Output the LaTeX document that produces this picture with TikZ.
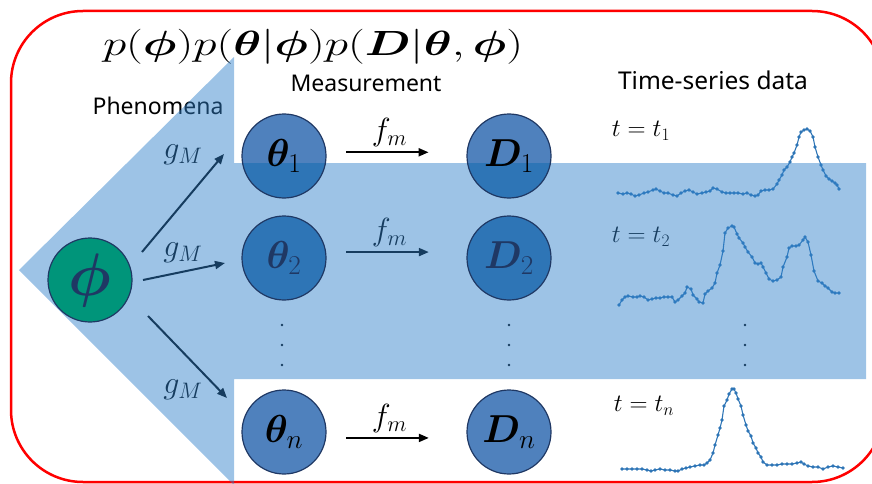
\RequirePackage{fix-cm}
\documentclass[tikz,border=0pt]{standalone}
\usepackage{amsmath,bm}
\usepackage[no-math]{fontspec}
\setsansfont{Noto Sans}
\usetikzlibrary{calc,arrows.meta}

\definecolor{arrowblue}{HTML}{2F80CA}
\definecolor{nodeblue}{HTML}{4F81BD}
\definecolor{deepblue}{HTML}{2E75B6}
\definecolor{phigreen}{HTML}{00957A}
\definecolor{navy}{HTML}{1F3864}
\definecolor{lineblue}{HTML}{2E75B6}

\pgfdeclarelayer{front}
\pgfsetlayers{main,front}

\begin{document}
\begin{tikzpicture}[x=1pt,y=-1pt,font=\sffamily\fontsize{23}{27}\selectfont,
  state/.style={circle,draw=navy,line width=1.2pt,minimum size=84pt,inner sep=0pt,
    fill=nodeblue,font=\fontsize{39}{43}\selectfont},
  inblue/.style={fill=deepblue,text=navy},
  cutblue/.style={path picture={\fill[deepblue] ([yshift=-7pt]path picture bounding box.west)
    rectangle (path picture bounding box.south east);}},
  garrow/.style={-{Triangle[length=10pt,width=8pt]},line width=2pt},
  farrow/.style={-{Triangle[length=10pt,width=8pt]},line width=2pt,
    shorten <=20pt,shorten >=38pt},
  lbl/.style={font=\fontsize{32}{36}\selectfont},
  series/.style={lineblue,line width=1.1pt,mark=*,mark size=1pt}]
\useasboundingbox (0,0) rectangle (872,484);
\clip (0,0) rectangle (872,484);
\draw[red,line width=2.5pt,rounded corners=72pt] (11,11) rectangle (884,482);

% joint distribution and headings
\node (joint) at (313,47) {\fontsize{35}{40}\selectfont\scalebox{1.35}[1]{$p(\bm{\phi})p(\bm{\theta}|\bm{\phi})p(\bm{D}|\bm{\theta},\bm{\phi})$}};
\node (phen) at (158,106) {Phenomena};
\node (meas) at (366,83) {Measurement};
\node[font=\sffamily\fontsize{24.5}{28}\selectfont] (tsd) at (713,80) {Time-series data};

% parameters and data
\begin{pgfonlayer}{front}
\node[state,fill=phigreen,text=navy,font=\fontsize{60}{64}\selectfont] (phi) at (90,280) {$\bm{\phi}$};
\node[state,cutblue] (th1) at (284,156) {$\bm{\theta}_1$};
\node[state,inblue] (th2) at (284,258) {$\bm{\theta}_2$};
\node[state] (thn) at (284,432) {$\bm{\theta}_n$};
\node[state,cutblue] (D1) at (509,156) {$\bm{D}_1$};
\node[state,inblue] (D2) at (509,258) {$\bm{D}_2$};
\node[state] (Dn) at (509,432) {$\bm{D}_n$};
\end{pgfonlayer}

\draw[farrow] (th1.5) -- (D1.175) node[lbl,pos=0.45,above=1pt] {$f_m$};
\draw[farrow] (th2.8) -- (D2.172) node[lbl,pos=0.45,above=1pt] {$f_m$};
\draw[farrow] (thn.-8) -- (Dn.188) node[lbl,pos=0.45,above=1pt] {$f_m$};

\draw[garrow] ($(phi)+(52,-28)$) -- ($(th1)+(-60,-2)$);
\draw[garrow] ($(phi)+(53,0)$) -- ($(th2)+(-59,5)$);
\draw[garrow] ($(phi)+(58,36)$) -- ($(thn)+(-57,-34)$);
\node[lbl] (gM1) at (183,155) {$g_M$};
\node[lbl] (gM2) at (183,253) {$g_M$};
\node[lbl] (gM3) at (183,390) {$g_M$};

\foreach \x in {282,509,745}
  \foreach \y in {325,345,365}
    \fill (\x,\y) circle (1.4pt);

% time series
\begin{scope}[font=\fontsize{25}{29}\selectfont]
\node (t1) at (641,131) {$t=t_1$};
\node (t2) at (641,237) {$t=t_2$};
\node (tn) at (644,406) {$t=t_n$};
\end{scope}
\draw[series] plot coordinates {(618,193)(623,194)(627,193)(631,194)(635,196)(639,195)(644,193)(648,192)(653,190)(656,189)(660,191)(664,193)(668,193)(673,195)(677,196)(681,193)(685,191)(689,190)(693,192)(697,194)(702,193)(706,192)(710,191)(713,188)(717,189)(722,192)(726,193)(730,193)(734,193)(738,193)(743,194)(747,193)(751,195)(755,196)(758,195)(761,191)(765,190)(769,190)(773,189)(777,184)(779,180)(782,175)(784,170)(787,167)(790,162)(792,157)(794,153)(797,145)(799,137)(801,132)(804,130)(807,129)(810,131)(813,137)(815,147)(818,157)(821,165)(823,170)(826,176)(829,179)(832,181)(835,183)(837,185)(839,189)};
\draw[series] plot coordinates {(619,305)(622,300)(625,297)(628,296)(633,297)(637,297)(640,296)(644,297)(648,300)(652,299)(656,298)(660,298)(664,297)(668,297)(672,297)(675,302)(678,300)(682,296)(685,293)(687,287)(691,289)(693,295)(697,299)(699,302)(703,303)(705,294)(708,291)(712,288)(715,283)(717,273)(720,265)(723,251)(725,233)(728,228)(732,226)(734,227)(737,234)(739,238)(743,243)(745,247)(748,252)(752,257)(755,263)(758,264)(761,263)(763,267)(766,273)(769,279)(773,281)(777,280)(781,277)(783,267)(787,257)(789,248)(792,246)(796,246)(799,245)(803,240)(805,237)(808,242)(811,255)(814,271)(818,281)(822,283)(825,286)(828,288)(832,292)(835,293)(839,293)};
\draw[series] plot coordinates {(622,469)(627,469)(632,469)(637,469)(642,469)(647,470)(651,471)(655,470)(660,469)(665,470)(670,470)(675,471)(678,471)(682,469)(686,468)(690,467)(695,466)(700,465)(704,465)(707,463)(710,460)(713,453)(715,445)(718,435)(720,428)(722,420)(724,406)(727,400)(729,394)(732,389)(734,389)(736,393)(738,399)(741,406)(743,415)(746,425)(748,431)(751,436)(753,443)(756,448)(758,453)(761,457)(763,462)(767,465)(772,465)(777,465)(782,464)(787,464)(792,464)(797,463)(801,462)(804,464)(808,466)(813,467)(818,467)(823,469)(828,467)(833,466)(838,467)(843,468)};

% big arrow over the labels
\fill[arrowblue,fill opacity=0.47] (19,270) -- (234,57) -- (234,163) -- (866,163)
  -- (866,379) -- (234,379) -- (234,485) -- cycle;
\end{tikzpicture}
\end{document}
